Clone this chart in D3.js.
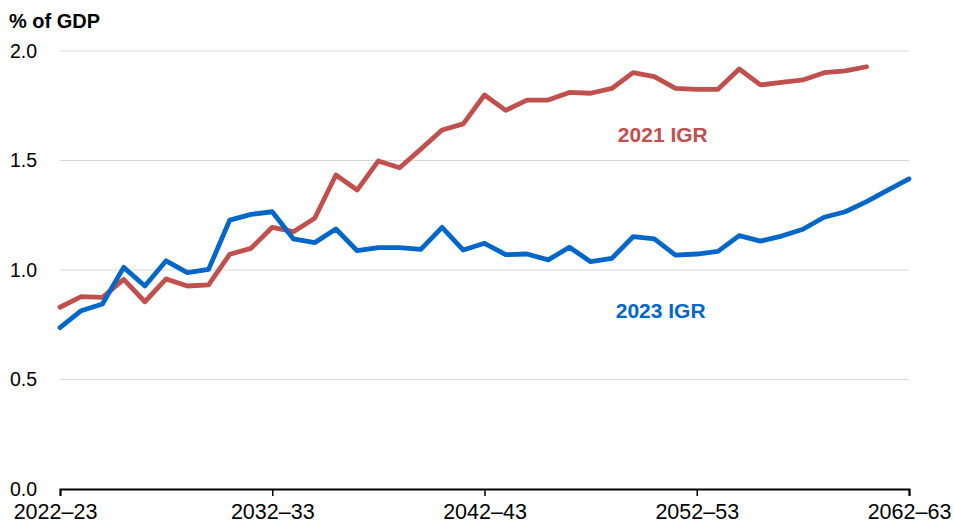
<!DOCTYPE html>
<html>
<head>
<meta charset="utf-8">
<script src="https://cdn.jsdelivr.net/npm/d3@7/dist/d3.min.js"></script>
<style>
  html, body { margin: 0; padding: 0; background: #fff; }
  svg { display: block; font-family: "Liberation Sans", Arial, sans-serif; }
</style>
</head>
<body>
<svg id="chart" width="954" height="532"></svg>
<script>
// Financial years, labelled by the starting year
const years = d3.range(2022, 2063);
const tickYears = [2022, 2032, 2042, 2052, 2062];
const yTicks = [0, 0.5, 1.0, 1.5, 2.0];

// 2021 Intergenerational Report projection (% of GDP), 2022–23 to 2060–61
const igr2021 = [0.83, 0.878, 0.875, 0.957, 0.855, 0.959, 0.927, 0.932, 1.072, 1.099,
  1.195, 1.175, 1.236, 1.434, 1.365, 1.498, 1.467, 1.552, 1.639, 1.667,
  1.799, 1.729, 1.776, 1.776, 1.811, 1.807, 1.829, 1.901, 1.883, 1.829,
  1.825, 1.825, 1.918, 1.845, 1.857, 1.868, 1.901, 1.909, 1.928];

// 2023 Intergenerational Report projection (% of GDP), 2022–23 to 2062–63
const igr2023 = [0.737, 0.814, 0.845, 1.012, 0.927, 1.042, 0.988, 1.003, 1.228, 1.254,
  1.266, 1.142, 1.125, 1.187, 1.088, 1.102, 1.102, 1.094, 1.195, 1.091,
  1.122, 1.07, 1.073, 1.046, 1.104, 1.038, 1.053, 1.152, 1.142, 1.068,
  1.073, 1.085, 1.157, 1.132, 1.155, 1.186, 1.241, 1.266, 1.312, 1.365,
  1.416];

const seriesNames = ["2021 IGR", "2023 IGR"];
const colours = ["#C0504D", "#0066C8"];

const svg = d3.select("#chart");
const margin = { left: 60, right: 45, top: 51, bottom: 43 };
const W = 954, H = 532;

const x = d3.scaleLinear().domain([2022, 2062]).range([margin.left, W - margin.right]);
const y = d3.scaleLinear().domain([0, 2]).range([H - margin.bottom, margin.top]);

// Horizontal gridlines
svg.append("g")
  .selectAll("line")
  .data(yTicks.filter(d => d > 0))
  .join("line")
  .attr("x1", x(2022)).attr("x2", x(2062))
  .attr("y1", d => y(d)).attr("y2", d => y(d))
  .attr("stroke", "#d6d6d6").attr("stroke-width", 1);

// Y tick labels, left aligned at the page edge
svg.append("g")
  .selectAll("text")
  .data(yTicks)
  .join("text")
  .attr("x", 10)
  .attr("y", d => y(d))
  .attr("dy", "0.35em")
  .attr("font-size", 19.5)
  .attr("fill", "#000")
  .text(d => d3.format(".1f")(d));

// Y axis title
svg.append("text")
  .attr("x", 9).attr("y", 28)
  .attr("font-size", 20).attr("font-weight", "bold")
  .text("% of GDP");

// X axis
const xAxis = d3.axisBottom(x)
  .tickValues(tickYears)
  .tickSize(7)
  .tickFormat(d => `${d}–${String(d + 1).slice(2)}`);

const gx = svg.append("g")
  .attr("transform", `translate(0,${y(0)})`)
  .call(xAxis);
gx.select(".domain").attr("stroke", "#000").attr("stroke-width", 2);
gx.selectAll(".tick line").attr("stroke", "#000").attr("stroke-width", 1.5);
gx.selectAll(".tick text")
  .attr("font-size", 21.5)
  .attr("font-family", "'Liberation Sans', Arial, sans-serif")
  .attr("fill", "#000")
  .attr("dy", "0.95em")
  .attr("dx", (d, i) => i === 0 ? -5 : 0);

// Series lines
const line = d3.line()
  .x((d, i) => x(years[i]))
  .y(d => y(d));

[igr2021, igr2023].forEach((vals, k) => {
  svg.append("path")
    .datum(vals)
    .attr("fill", "none")
    .attr("stroke", colours[k])
    .attr("stroke-width", 4.8)
    .attr("stroke-linejoin", "round")
    .attr("stroke-linecap", "round")
    .attr("d", line);
});

// Direct series labels
const labelPos = [{ yr: 2050.4, v: 1.616 }, { yr: 2050.3, v: 0.813 }];
seriesNames.forEach((name, k) => {
  svg.append("text")
    .attr("x", x(labelPos[k].yr))
    .attr("y", y(labelPos[k].v))
    .attr("dy", "0.35em")
    .attr("text-anchor", "middle")
    .attr("font-size", 21)
    .attr("font-weight", "bold")
    .attr("fill", colours[k])
    .text(name);
});
</script>
</body>
</html>
